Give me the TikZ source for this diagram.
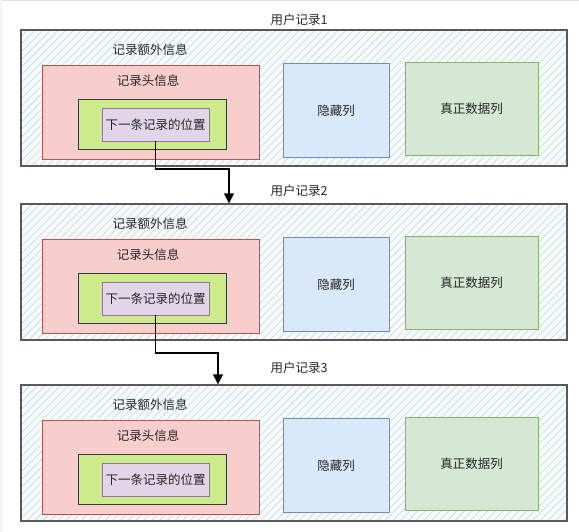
\documentclass[tikz,border=0pt]{standalone}
\usepackage{fontspec}
\setmainfont{Noto Sans CJK SC}
\usetikzlibrary{arrows.meta,positioning,patterns.meta}

\definecolor{hatchline}{HTML}{D3E2E9}
\definecolor{hatchback}{HTML}{F7FAFB}
\definecolor{pinkfill}{HTML}{F8CECC}
\definecolor{pinkdraw}{HTML}{B85450}
\definecolor{limefill}{HTML}{CDEB8B}
\definecolor{limedraw}{HTML}{36393D}
\definecolor{lilacfill}{HTML}{E1D5E7}
\definecolor{lilacdraw}{HTML}{9673A6}
\definecolor{bluefill}{HTML}{DAE8FC}
\definecolor{bluedraw}{HTML}{6C8EBF}
\definecolor{sagefill}{HTML}{D5E8D4}
\definecolor{sagedraw}{HTML}{82B366}

\tikzset{
  box/.style={rectangle, inner sep=0pt, line width=0.8pt},
  record/.style={box, draw=black!65, line width=1.4pt,
    preaction={fill=hatchback},
    pattern={Lines[angle=45, distance=5.5pt, line width=1pt]}, pattern color=hatchline},
  header/.style={box, draw=pinkdraw, fill=pinkfill},
  nextbox/.style={box, draw=limedraw, fill=limefill},
  pointer/.style={box, draw=lilacdraw, fill=lilacfill},
  hidden/.style={box, draw=bluedraw, fill=bluefill},
  datacol/.style={box, draw=sagedraw, fill=sagefill},
  label/.style={inner sep=0pt, text=black!85, font=\fontsize{12.5}{14}\selectfont},
  flow/.style={draw=black, line width=1.6pt, -{Triangle[length=10pt, width=10pt]}},
}

\begin{document}
\begin{tikzpicture}[x=1pt, y=-1pt]

\useasboundingbox (0,0) rectangle (579,532);
\draw[black!12, line width=1.5pt] (0,0.75) -- (579,0.75);
\draw[black!5, line width=2pt] (1,0) -- (1,532);

% three records, same layout, shifted down
\foreach \i/\t/\ty in {1/30/20, 2/204/191, 3/385/368} {
  \node[label] (title\i) at (299, \ty) {用户记录\i};
  \node[record, minimum width=546pt, minimum height=136pt] (rec\i) at (294, \t+68) {};
  \node[label] (extra\i) at (150, \t+20) {记录额外信息};
  \node[header, minimum width=217pt, minimum height=94pt] (head\i) at (150.5, \t+82) {};
  \node[label] (headtxt\i) at (148, \t+51) {记录头信息};
  \node[nextbox, minimum width=148pt, minimum height=50pt] (next\i) at (152, \t+94) {};
  \node[pointer, minimum width=107pt, minimum height=33pt, label] (pos\i) at (155.5, \t+94.5) {下一条记录的位置};
  \node[hidden, minimum width=106pt, minimum height=94pt, label] (hide\i) at (336, \t+80.5) {隐藏列};
  \node[datacol, minimum width=133pt, minimum height=93pt, label] (data\i) at (471.5, \t+79) {真正数据列};
}

\coordinate (elbow1) at (229, 169);
\coordinate (elbow2) at (218, 353);

\draw[flow] (pos1.south) |- (elbow1) -- (elbow1 |- rec2.north);
\draw[flow] (pos2.south) |- (elbow2) -- (elbow2 |- rec3.north);

\end{tikzpicture}
\end{document}
